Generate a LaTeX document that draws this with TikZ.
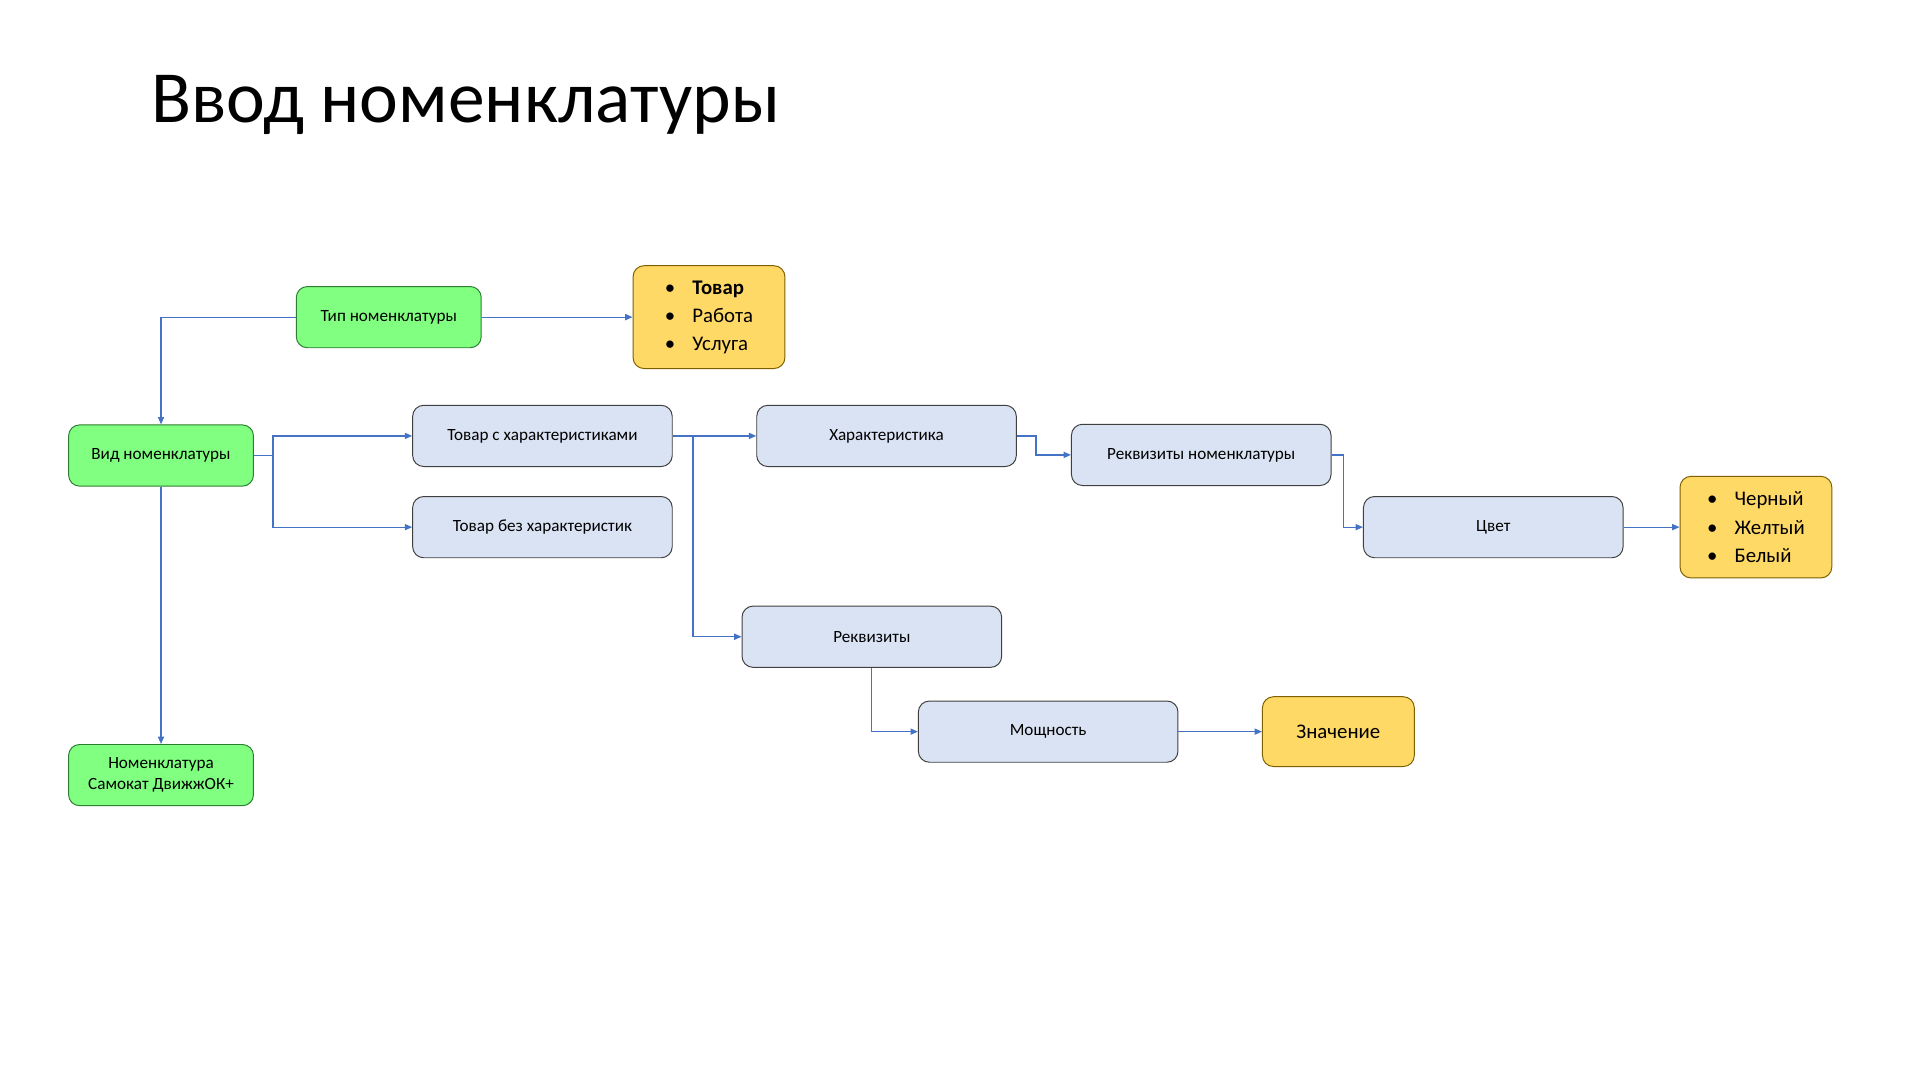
\documentclass[tikz,border=0pt]{standalone}
\usepackage{fontspec}
\setmainfont{Carlito}
\usetikzlibrary{arrows.meta}
\definecolor{gfill}{HTML}{80FF80}
\definecolor{gdraw}{HTML}{2E7D32}
\definecolor{bfill}{HTML}{DAE3F3}
\definecolor{bdraw}{HTML}{404040}
\definecolor{ofill}{HTML}{FFD966}
\definecolor{odraw}{HTML}{7F6000}
\definecolor{lnk}{HTML}{4472C4}
\begin{document}
\begin{tikzpicture}[x=1pt,y=-1pt,
  box/.style={rounded corners=9pt,line width=0.8pt,inner sep=0pt,align=center,font=\fontsize{14}{17}\selectfont},
  gbox/.style={box,fill=gfill,draw=gdraw,minimum width=151pt,minimum height=50pt},
  bbox/.style={box,fill=bfill,draw=bdraw,minimum width=212pt,minimum height=50pt},
  obox/.style={box,fill=ofill,draw=odraw,minimum width=124pt,font=\fontsize{17}{23}\selectfont},
  conn/.style={draw=lnk,line width=1pt,-{Triangle[length=6pt,width=5pt]}}]
\useasboundingbox (0,0) rectangle (1568,882);
\node[anchor=base west,font=\fontsize{60}{70}\selectfont] (title) at (120,100) {Ввод номенклатуры};
\node[gbox] (tip) at (317.5,259) {Тип номенклатуры};
\node[obox,minimum height=84pt,align=left] (tl) at (579,259) {\textbullet\hspace{14pt}\textbf{Товар}\\\textbullet\hspace{14pt}Работа\\\textbullet\hspace{14pt}Услуга};
\node[gbox] (vid) at (131.5,372) {Вид номенклатуры};
\node[gbox] (nom) at (131.5,633) {Номенклатура\\Самокат ДвижжОК+};
\node[bbox] (tsh) at (443,356) {Товар с характеристиками};
\node[bbox] (tbh) at (443,430.5) {Товар без характеристик};
\node[bbox] (har) at (724,356) {Характеристика};
\node[bbox] (rn) at (981,371.5) {Реквизиты номенклатуры};
\node[bbox] (cv) at (1219.5,430.5) {Цвет};
\node[obox,minimum height=83pt,align=left] (cl) at (1434,430.5) {\textbullet\hspace{14pt}Черный\\\textbullet\hspace{14pt}Желтый\\\textbullet\hspace{14pt}Белый};
\node[bbox] (rek) at (712,520) {Реквизиты};
\node[bbox] (mo) at (856,597.5) {Мощность};
\node[obox,minimum height=57pt] (zn) at (1093,597.5) {Значение};
\draw[conn] (tip.west) -| (vid.north);
\draw[conn] (tip.east) -- (tl.west);
\draw[conn] (vid.east) -- (223,372) |- (tsh.west);
\draw[conn] (223,372) |- (tbh.west);
\draw[conn] (vid.south) -- (nom.north);
\draw[conn] (tsh.east) -- (har.west);
\draw[conn] (tsh.east) -- (566,356) |- (rek.west);
\draw[conn] (har.east) -- (846,356) |- (rn.west);
\draw[conn] (rn.east) -- (1097,371.5) |- (cv.west);
\draw[conn] (cv.east) -- (cl.west);
\draw[conn] (rek.south) |- (mo.west);
\draw[conn] (mo.east) -- (zn.west);
\end{tikzpicture}
\end{document}
